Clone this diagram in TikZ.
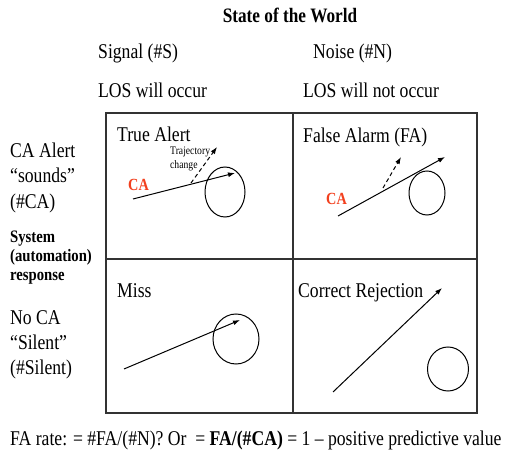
\documentclass[tikz,border=0pt]{standalone}
\usepackage{fontspec}
\setmainfont{Liberation Serif}[FakeStretch=0.84]
\usetikzlibrary{arrows.meta,shapes.geometric}
\definecolor{caRed}{HTML}{F2401E}
\definecolor{gridGrey}{HTML}{333333}
\tikzset{
  lbl/.style={anchor=base west, inner sep=0pt, font=\fontsize{21}{24}\selectfont},
  lblb/.style={anchor=base west, inner sep=0pt, font=\fontsize{17.5}{20}\selectfont\bfseries},
  calbl/.style={anchor=base west, inner sep=0pt, text=caRed, font=\fontsize{17}{18}\selectfont\bfseries},
  small/.style={anchor=base west, inner sep=0pt, font=\fontsize{11.5}{12}\selectfont},
  gridline/.style={draw=gridGrey, line width=1.2pt},
  traj/.style={line width=1pt, -{Latex[length=7pt,width=5pt]}},
  trajd/.style={traj, dashed, dash pattern=on 4pt off 3pt},
  zone/.style={draw, ellipse, line width=1pt, inner sep=0pt}
}
\begin{document}
\begin{tikzpicture}[x=1pt,y=-1pt]
\useasboundingbox (0,0) rectangle (509,454);
% grid
\draw[gridline] (106,113) rectangle (477,413);
\draw[gridline] (293,113) -- (293,413);
\draw[gridline] (106,259) -- (477,259);
% header
\node[anchor=base, inner sep=0pt, font=\fontsize{20.5}{22}\selectfont\bfseries] (sow) at (290,23) {State of the World};
\node[lbl] (sig) at (98,59) {Signal (\#S)};
\node[lbl] (noi) at (313,59) {Noise (\#N)};
\node[lbl] (los) at (98,98) {LOS will occur};
\node[lbl] (nlos) at (303,98) {LOS will not occur};
% left labels
\node[lbl] (l1) at (10,158) {CA Alert};
\node[lbl] (l2) at (10,183) {``sounds''};
\node[lbl] (l3) at (10,209) {(\#CA)};
\node[lblb] (s1) at (10,243) {System};
\node[lblb] (s2) at (10,262) {(automation)};
\node[lblb] (s3) at (10,281) {response};
\node[lbl] (n1) at (10,325) {No CA};
\node[lbl] (n2) at (10,350) {``Silent''};
\node[lbl] (n3) at (10,374) {(\#Silent)};
% cell titles
\node[lbl] (ta) at (117,142) {True Alert};
\node[lbl] (fa) at (303,143) {False Alarm (FA)};
\node[lbl] (mi) at (117,298) {Miss};
\node[lbl] (cr) at (298,298) {Correct Rejection};
% True alert cell
\node[small] (tc1) at (170,155) {Trajectory};
\node[small] (tc2) at (170,169) {change};
\node[calbl] (ca1) at (128,191) {CA};
\node[zone, minimum width=40pt, minimum height=50pt] (e1) at (225,192) {};
\coordinate (a1s) at (133,199);
\coordinate (a1e) at (235,173);
\coordinate (d1s) at (191,183);
\coordinate (d1e) at (217,147);
\draw[traj] (a1s) -- (a1e);
\draw[trajd] (d1s) -- (d1e);
% False alarm cell
\node[calbl] (ca2) at (326,205) {CA};
\node[zone, minimum width=36pt, minimum height=44pt] (e2) at (427,193) {};
\coordinate (a2s) at (338,216);
\coordinate (a2e) at (445,157);
\coordinate (d2s) at (383,188);
\coordinate (d2e) at (401,157);
\draw[traj] (a2s) -- (a2e);
\draw[trajd] (d2s) -- (d2e);
% Miss cell
\node[zone, minimum width=46pt, minimum height=50pt] (e3) at (236,339) {};
\coordinate (a3s) at (124,369);
\coordinate (a3e) at (240,320);
\draw[traj] (a3s) -- (a3e);
% Correct rejection cell
\node[zone, minimum width=41pt, minimum height=44pt] (e4) at (448,369) {};
\coordinate (a4s) at (333,392);
\coordinate (a4e) at (442,288);
\draw[traj] (a4s) -- (a4e);
% formula
\node[lbl] (fr) at (10,446) {FA rate: = \#FA/(\#N)? Or \ = \textbf{FA/(\#CA)} = 1 -- positive predictive value};
\end{tikzpicture}
\end{document}
